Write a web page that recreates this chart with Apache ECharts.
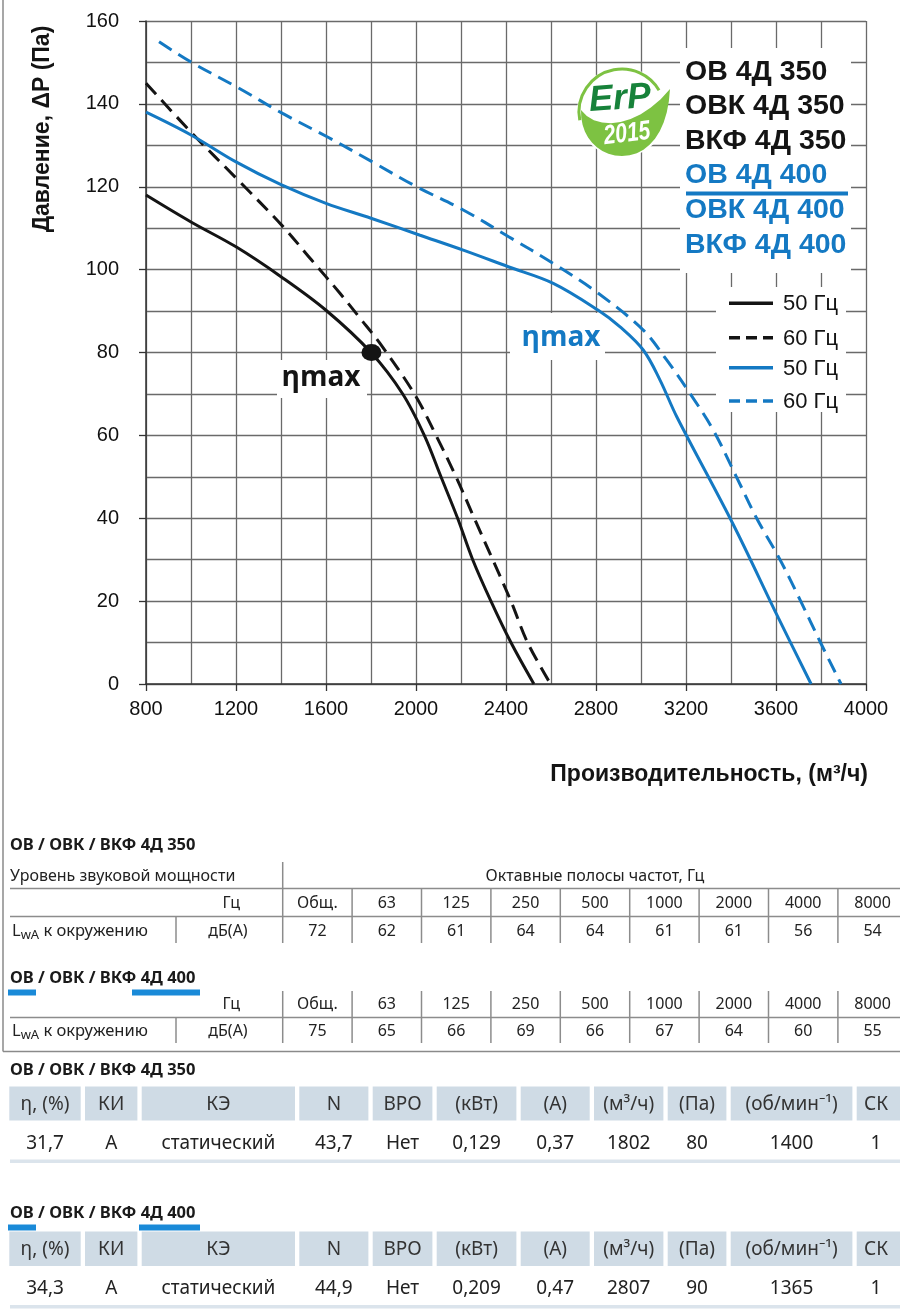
<!DOCTYPE html>
<html>
<head>
<meta charset="utf-8">
<script src="https://cdn.jsdelivr.net/npm/echarts@6/dist/echarts.min.js"></script>
<style>
html,body{margin:0;padding:0;background:#fff;}
#chart{width:900px;height:1309px;}
</style>
</head>
<body>
<div id="chart"></div>
<script>
// расход (м3/ч) и давление (Па)
var q350_50 = [800,1000,1200,1400,1600,1800,1941,2037,2111,2185,2252,2333,2422,2524];
var p350_50 = [118,111.5,105.5,98.3,90.2,80,70,60,50,40,30,20,10,0];
var q350_60 = [800,1003,1206,1407,1536,1662,1751,1840,1993,2089,2178,2259,2341,2422,2496,2598];
var p350_60 = [145,133,121.8,110.5,102.3,94.3,88.3,82.2,70,60,50,40,30,20,10,0];
var q400_50 = [800,1000,1200,1400,1600,1800,2018,2210,2410,2610,2810,2907,3010,3084,3159,3410,3610,3756];
var p400_50 = [138,132.5,126,120.5,116,112.4,108.3,104.7,100.7,96.7,90.2,86.2,80.6,73.4,64.5,38.5,16,0];
var q400_60 = [858,1003,1206,1407,1607,1806,2003,2210,2410,2610,2810,3010,3114,3218,3321,3424,3514,3618,3707,3796,3889];
var p400_60 = [155,150,144,137.7,132,126,120,114.4,108,101.5,94.3,85.4,78.2,70.1,61.3,50,40,30,20.3,10.2,0];

// точка максимального КПД (ОВ 4Д 350)
var etaPoint350 = [1802, 80];

var modelNames = ['ОВ 4Д 350','ОВК 4Д 350','ВКФ 4Д 350','ОВ 4Д 400','ОВК 4Д 400','ВКФ 4Д 400'];
var freqLabels = ['50 Гц','60 Гц','50 Гц','60 Гц'];

// уровень звуковой мощности
var octaveHead = ['Общ.','63','125','250','500','1000','2000','4000','8000'];
var lwa350 = ['72','62','61','64','64','61','61','56','54'];
var lwa400 = ['75','65','66','69','66','67','64','60','55'];

// рабочие параметры
var perfHead = ['η, (%)','КИ','КЭ','N','ВРО','(кВт)','(А)','(м³/ч)','(Па)','(об/мин⁻¹)','СК'];
var perf350 = ['31,7','А','статический','43,7','Нет','0,129','0,37','1802','80','1400','1'];
var perf400 = ['34,3','А','статический','44,9','Нет','0,209','0,47','2807','90','1365','1'];

var BLUE = '#1479c3';
var BLACK = '#141414';
var ARIAL = "'Liberation Sans', Arial, sans-serif";
var NOTO = "'Noto Sans', sans-serif";

function pairs(q, p) {
	var r = [];
	for (var i = 0; i < q.length; i++) r.push([q[i], p[i]]);
	return r;
}

function T(x, y, text, font, fill, align, z) {
	return {type:'text', x:x, y:y, z: z == null ? 5 : z,
		style:{text:text, font:font, fill:fill || '#222', textAlign:align || 'left', textVerticalAlign:'middle'}};
}
function L(x1, y1, x2, y2, color, w, dash) {
	return {type:'line', z:4, shape:{x1:x1, y1:y1, x2:x2, y2:y2},
		style:{stroke:color, lineWidth:w, lineDash:dash || null}};
}
function R(x, y, w, h, fill, z) {
	return {type:'rect', z: z == null ? 4 : z, shape:{x:x, y:y, width:w, height:h}, style:{fill:fill}};
}
// кривая Безье -> точки для полигона (для значка)
function bez(pts, a, b, c, d) {
	for (var t = 0; t <= 1; t += 0.1) {
		var u = 1 - t;
		pts.push([u*u*u*a[0] + 3*u*u*t*b[0] + 3*u*t*t*c[0] + t*t*t*d[0],
			u*u*u*a[1] + 3*u*u*t*b[1] + 3*u*t*t*c[1] + t*t*t*d[1]]);
	}
}

var g = [];

// рамка
g.push(L(3, 0, 3, 1051.5, '#8a8a8a', 1.5));
g.push(L(3, 1051.5, 900, 1051.5, '#8a8a8a', 1.5));

// подписи осей
g.push({type:'text', x:43, y:129, rotation:Math.PI/2, z:5,
	style:{text:'Давление, ΔP (Па)', font:'bold 23px ' + ARIAL, fill:BLACK, textAlign:'center', textVerticalAlign:'middle'}});
g.push(T(868, 775, 'Производительность, (м³/ч)', 'bold 23px ' + ARIAL, BLACK, 'right'));

// белые подложки под надписями на сетке
g.push(R(680, 48, 171, 225, '#fff', 1));
g.push(R(716, 287, 130, 125, '#fff', 1));
g.push(R(277, 360, 90, 38, '#fff', 1));
g.push(R(510, 313, 95, 47, '#fff', 1));

// названия моделей
for (var i = 0; i < modelNames.length; i++) {
	g.push(T(685, 71.7 + i * 34.6, modelNames[i], 'bold 28.5px ' + ARIAL, i < 3 ? BLACK : BLUE));
}
g.push(R(686, 191.5, 162, 4, BLUE, 5));

// легенда частот
var legY = [303.3, 337.7, 367.7, 401];
for (var i = 0; i < freqLabels.length; i++) {
	var c = i < 2 ? BLACK : BLUE;
	g.push(L(729, legY[i], 773, legY[i], c, 3.5, i % 2 ? [11, 6] : null));
	g.push(T(783, legY[i] + 1, freqLabels[i], '22px ' + ARIAL, BLACK));
}

// ηmax
g.push(T(321, 378, 'ηmax', 'bold 28px ' + "'Open Sans', sans-serif", BLACK, 'center'));
g.push(T(561, 338, 'ηmax', 'bold 28px ' + "'Open Sans', sans-serif", BLUE, 'center'));

// значок ErP 2015
var leaf = [];
bez(leaf, [581,110], [598,133], [640,126], [670,89]);
bez(leaf, [670,89], [668,132], [648,156], [622,156]);
bez(leaf, [622,156], [598,156], [580,136], [581,110]);
g.push({type:'circle', z:1, shape:{cx:622, cy:112, r:45}, style:{fill:'#fff'}});
g.push({type:'polygon', z:2, shape:{points:leaf}, style:{fill:'#7dc242'}});
g.push({type:'arc', z:2, shape:{cx:622, cy:112, r:43, startAngle:2.95, endAngle:5.75}, style:{stroke:'#7dc242', lineWidth:3, fill:null}});
g.push({type:'text', x:620, y:99, rotation:0.07, z:3,
	style:{text:'ErP', font:'italic bold 36px ' + ARIAL, fill:'#17823a', textAlign:'center', textVerticalAlign:'middle'}});
g.push({type:'text', x:627, y:134, rotation:0.12, scaleX:0.78, z:3,
	style:{text:'2015', font:'italic bold 27px ' + ARIAL, fill:'#fff', textAlign:'center', textVerticalAlign:'middle'}});

// таблицы уровня звуковой мощности
var colX0 = 282.7, colW = 69.4;
function soundTable(title, blueMarks, yTitle, yRow1, yLine1, yRow2, yLine2, yRow3, yTop, yBottom, values) {
	g.push(T(10, yTitle, title, 'bold 16.5px ' + NOTO, '#1a1a1a'));
	for (var k = 0; k < blueMarks.length; k++) g.push(R(blueMarks[k][0], yTitle + 11, blueMarks[k][1], 6, '#1a8ad8', 5));
	if (yRow1 != null) {
		g.push(T(10, yRow1, 'Уровень звуковой мощности', '16px ' + NOTO, '#222'));
		g.push(T(595, yRow1, 'Октавные полосы частот, Гц', '16px ' + NOTO, '#222', 'center'));
		g.push(L(10, yLine1, 900, yLine1, '#8c8c8c', 1.5));
	}
	g.push(T(240, yRow2, 'Гц', '16px ' + NOTO, '#222', 'right'));
	g.push(L(10, yLine2, 900, yLine2, '#8c8c8c', 1.5));
	g.push({type:'text', x:12, y:yRow3, z:5, style:{
		text:'{a|L}{b|wA}{a| к окружению}', textVerticalAlign:'middle',
		rich:{a:{font:'16.5px ' + NOTO, fill:'#222'}, b:{font:'13px ' + NOTO, fill:'#222', padding:[8, 0, 0, 0]}}}});
	g.push(T(228, yRow3, 'дБ(А)', '16px ' + NOTO, '#222', 'center'));
	for (var j = 0; j < octaveHead.length; j++) {
		var cx = colX0 + colW * (j + 0.5);
		g.push(T(cx, yRow2, octaveHead[j], '16px ' + NOTO, '#222', 'center'));
		g.push(T(cx, yRow3, values[j], '16px ' + NOTO, '#222', 'center'));
		if (j > 0) g.push(L(colX0 + colW * j, yTop + (yRow1 != null ? 27 : 0), colX0 + colW * j, yBottom, '#8c8c8c', 1.5));
	}
	g.push(L(colX0, yTop, colX0, yBottom, '#8c8c8c', 1.5));
	g.push(L(176, yLine2, 176, yBottom, '#8c8c8c', 1.5));
}
soundTable('ОВ / ОВК / ВКФ 4Д 350', [], 845, 876.5, 888.5, 903.5, 916.5, 931.5, 862, 943, lwa350);
soundTable('ОВ / ОВК / ВКФ 4Д 400', [[8, 28], [132, 68]], 978.5, null, null, 1004, 1017.5, 1031.5, 991, 1043, lwa400);

// таблицы рабочих параметров
var cellX = [9.3, 85, 141.7, 299.3, 372.7, 436.7, 520.7, 594, 667.7, 730.7, 856.7, 900];
function perfTable(title, blueMarks, yTitle, headTop, headH, yHead, yData, yStrip, values) {
	g.push(T(10, yTitle, title, 'bold 16.5px ' + NOTO, '#1a1a1a'));
	for (var k = 0; k < blueMarks.length; k++) g.push(R(blueMarks[k][0], yTitle + 11, blueMarks[k][1], 6, '#1a8ad8', 5));
	for (var j = 0; j < perfHead.length; j++) {
		var x0 = cellX[j], x1 = j < perfHead.length - 1 ? cellX[j + 1] - 4.3 : cellX[j + 1];
		var cx = j < perfHead.length - 1 ? (x0 + x1) / 2 : 876;
		g.push(R(x0, headTop, x1 - x0, headH, '#cfdbe5', 3));
		g.push(T(cx, yHead, perfHead[j], '19px ' + NOTO, '#333', 'center'));
		g.push(T(cx, yData, values[j], '19px ' + NOTO, '#222', 'center'));
	}
	g.push(R(10, yStrip, 890, 3.5, '#dbe4ec', 3));
}
perfTable('ОВ / ОВК / ВКФ 4Д 350', [], 1070, 1086.5, 34, 1104.5, 1143.5, 1159.5, perf350);
perfTable('ОВ / ОВК / ВКФ 4Д 400', [[8, 28], [139, 61]], 1213.5, 1231.5, 34.5, 1249.5, 1288.5, 1305, perf400);

var gridLine = {show:true, lineStyle:{color:'#6a6a6a', width:1.3}};
var myChart = echarts.init(document.getElementById('chart'));
var option = {
	animation: false,
	grid: {left:146, top:21, width:720, height:663},
	xAxis: {
		type:'value', min:800, max:4000, interval:400,
		axisLine:{show:true, lineStyle:{color:'#333', width:1.5}},
		axisTick:{show:true, length:7, lineStyle:{color:'#333', width:1.3}},
		axisLabel:{margin:15, color:'#111', fontSize:20, fontFamily:ARIAL,
			formatter:function (v) { return String(v); }},
		splitLine:gridLine,
		minorTick:{show:false, splitNumber:2},
		minorSplitLine:gridLine
	},
	yAxis: {
		type:'value', min:0, max:160, interval:20,
		axisLine:{show:true, lineStyle:{color:'#333', width:1.5}},
		axisTick:{show:true, length:7, lineStyle:{color:'#333', width:1.3}},
		axisLabel:{margin:27, color:'#111', fontSize:20, fontFamily:ARIAL},
		splitLine:gridLine,
		minorTick:{show:false, splitNumber:2},
		minorSplitLine:gridLine
	},
	series: [
		{type:'line', name:'ОВ 4Д 350 50 Гц', data:pairs(q350_50, p350_50), showSymbol:false, smooth:0.35,
			lineStyle:{color:BLACK, width:3}},
		{type:'line', name:'ОВ 4Д 350 60 Гц', data:pairs(q350_60, p350_60), showSymbol:false, smooth:0.35,
			lineStyle:{color:BLACK, width:3, type:[15, 8]}},
		{type:'line', name:'ОВ 4Д 400 50 Гц', data:pairs(q400_50, p400_50), showSymbol:false, smooth:0.35,
			lineStyle:{color:BLUE, width:3}},
		{type:'line', name:'ОВ 4Д 400 60 Гц', data:pairs(q400_60, p400_60), showSymbol:false, smooth:0.35,
			lineStyle:{color:BLUE, width:3, type:[15, 8]}},
		{type:'scatter', name:'ηmax', data:[etaPoint350], symbolSize:[20, 17], itemStyle:{color:BLACK, opacity:1}, z:6}
	],
	graphic: {elements: g}
};
myChart.setOption(option);
</script>
</body>
</html>
